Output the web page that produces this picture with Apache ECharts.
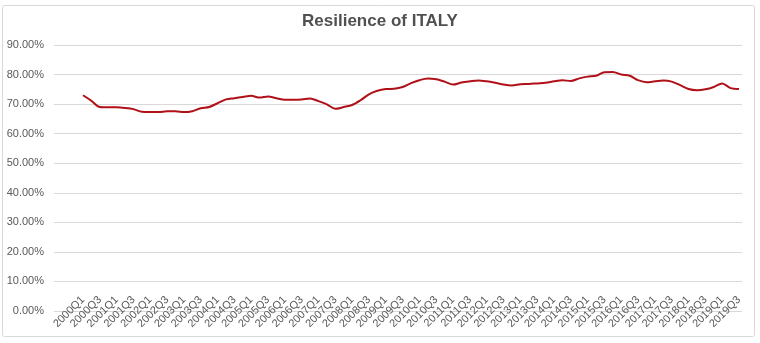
<!DOCTYPE html>
<html>
<head>
<meta charset="utf-8">
<script src="https://cdn.jsdelivr.net/npm/echarts@6/dist/echarts.min.js"></script>
<style>
  html, body { margin: 0; padding: 0; background: #ffffff; }
  #chart { width: 760px; height: 343px; }
</style>
</head>
<body>
<div id="chart"></div>
<script>
// Quarterly periods, 2000Q1 .. 2019Q3
const quarters = [];
for (let y = 2000; y <= 2019; y++) {
  for (let q = 1; q <= 4; q++) {
    if (y === 2019 && q > 3) break;
    quarters.push(y + 'Q' + q);
  }
}

// Resilience index, in percent
const resilience = [
  73.0, 71.1, 69.0, 68.9, 68.9, 68.7, 68.3, 67.4, 67.3, 67.3,
  67.6, 67.6, 67.3, 67.6, 68.6, 69.0, 70.3, 71.6, 72.0, 72.4,
  72.8, 72.2, 72.6, 72.0, 71.5, 71.5, 71.6, 71.9, 71.0, 69.9,
  68.4, 69.0, 69.7, 71.3, 73.3, 74.5, 75.1, 75.2, 75.8, 77.1,
  78.1, 78.7, 78.4, 77.6, 76.6, 77.3, 77.7, 78.0, 77.7, 77.2,
  76.6, 76.3, 76.7, 76.8, 77.0, 77.2, 77.7, 78.1, 77.8, 78.7,
  79.3, 79.6, 80.8, 80.9, 80.0, 79.6, 78.1, 77.4, 77.7, 78.0,
  77.6, 76.4, 75.1, 74.7, 75.0, 75.8, 77.0, 75.4, 75.1
];

// Value axis range (percent)
const yMin = 0, yMax = 90, yStep = 10;

const textColor = '#595959';
const chart = echarts.init(document.getElementById('chart'), null, { renderer: 'canvas' });

chart.setOption({
  animation: false,
  backgroundColor: '#ffffff',
  title: {
    text: 'Resilience of ITALY',
    left: 'center',
    top: 8,
    textStyle: { fontFamily: 'Liberation Sans', fontWeight: 'bold', fontSize: 17, color: '#505050' }
  },
  graphic: [{
    type: 'rect',
    shape: { x: 2.5, y: 5.5, width: 752, height: 331, r: 2 },
    style: { fill: 'none', stroke: '#d9d9d9', lineWidth: 1 },
    silent: true
  }],
  grid: [
    { left: 54, right: 18, top: 45, bottom: 32 },   // gridlines and value labels
    { left: 83, right: 21, top: 45, bottom: 32 }    // category axis and series
  ],
  xAxis: [
    { gridIndex: 0, type: 'value', show: false, min: 0, max: 1 },
    {
      gridIndex: 1,
      type: 'category',
      data: quarters,
      boundaryGap: false,
      axisLine: { show: false },
      axisTick: { show: false },
      axisLabel: {
        interval: 1,
        rotate: 45,
        margin: -13,
        color: textColor,
        fontFamily: 'Liberation Sans',
        fontSize: 11
      }
    }
  ],
  yAxis: [
    {
      gridIndex: 0,
      type: 'value',
      min: yMin, max: yMax, interval: yStep,
      axisLine: { show: false },
      axisTick: { show: false },
      axisLabel: {
        margin: 10,
        color: textColor,
        fontFamily: 'Liberation Sans',
        fontSize: 11,
        formatter: v => v.toFixed(2) + '%'
      },
      splitLine: {
        show: true,
        lineStyle: { color: '#d9d9d9', width: 1 }
      }
    },
    { gridIndex: 1, type: 'value', min: yMin, max: yMax, show: false, splitLine: { show: false } }
  ],
  series: [{
    type: 'line',
    xAxisIndex: 1,
    yAxisIndex: 1,
    data: resilience,
    smooth: 0.3,
    symbol: 'none',
    lineStyle: { color: '#b01018', width: 2 }
  }]
});
</script>
</body>
</html>
